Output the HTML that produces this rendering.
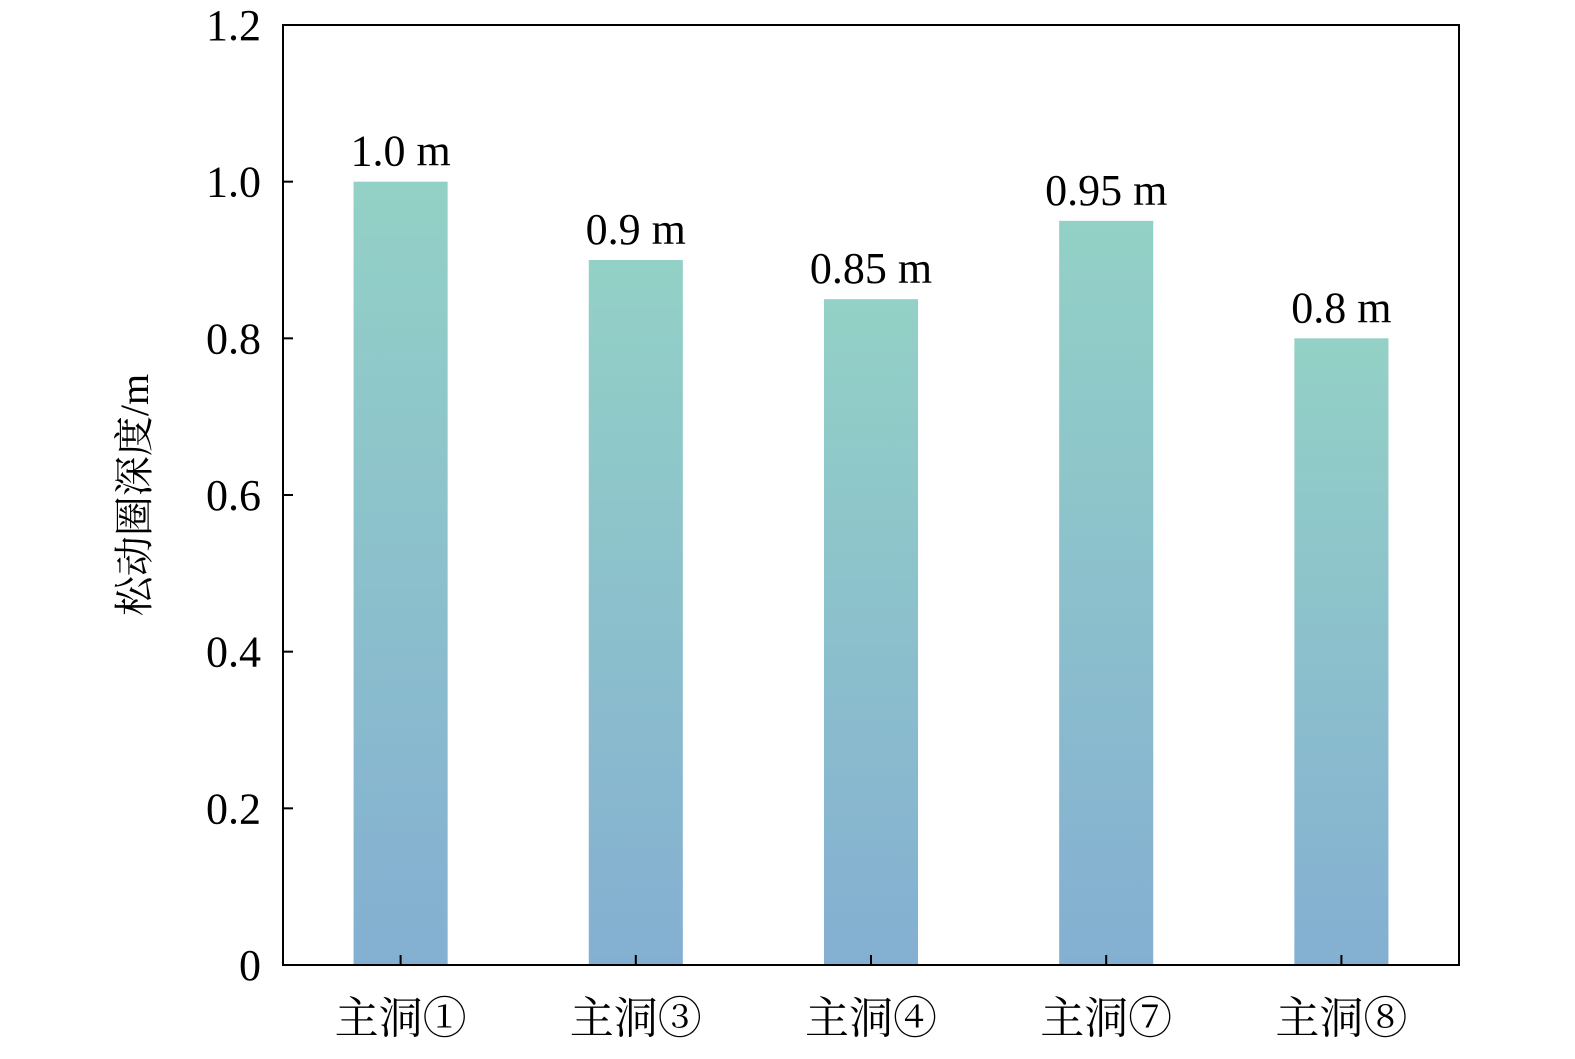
<!DOCTYPE html>
<html><head><meta charset="utf-8"><style>
html,body{margin:0;padding:0;background:#fff;}
svg text{font-family:"Liberation Serif","Noto Serif CJK SC",serif;fill:#000;}
</style></head><body>
<svg id="chart" width="1575" height="1054" xmlns="http://www.w3.org/2000/svg">
<defs><linearGradient id="g" x1="0" y1="0" x2="0" y2="1"><stop offset="0" stop-color="#93d1c6"/><stop offset="1" stop-color="#84afd2"/></linearGradient></defs>
<g id="bars"></g>
<rect x="283" y="25" width="1176" height="940" fill="none" stroke="#000" stroke-width="2"/>
<g id="axes"></g>
<text transform="translate(148,495) rotate(-90)" text-anchor="middle" font-size="40">松动圈深度/m</text>
</svg>
<script>
const categories=["主洞①","主洞③","主洞④","主洞⑦","主洞⑧"];
const values=[1.0,0.9,0.85,0.95,0.8];
const valueLabels=["1.0 m","0.9 m","0.85 m","0.95 m","0.8 m"];
const yTicks=[0,0.2,0.4,0.6,0.8,1.0,1.2];
const yTickLabels=["0","0.2","0.4","0.6","0.8","1.0","1.2"];
const NS="http://www.w3.org/2000/svg";
const L=283,R=1459,T=25,B=965,yMax=1.2;
const y=v=>B-(v/yMax)*(B-T);
const band=(R-L)/categories.length;
const x=i=>L+band*(i+0.5);
const bw=band*0.4;
const bars=document.getElementById('bars'),axes=document.getElementById('axes');
function mk(tag,attrs,parent){const e=document.createElementNS(NS,tag);for(const k in attrs)e.setAttribute(k,attrs[k]);parent.appendChild(e);return e;}
categories.forEach((c,i)=>{
 const r=mk('rect',{x:x(i)-bw/2,y:y(values[i]),width:bw,height:B-y(values[i]),fill:'url(#g)'},bars);
 
 
 const t=mk('text',{x:x(i),y:y(values[i])-16,'text-anchor':'middle','font-size':44},bars);
 t.textContent=valueLabels[i];
 
 
 const tk=mk('line',{x1:x(i),x2:x(i),y1:B,y2:B-10,stroke:'#000','stroke-width':2},axes);
 
 
 const lb=mk('text',{x:x(i),y:B+68,'text-anchor':'middle','font-size':44},axes);
 lb.textContent=c;
 
 
});
yTicks.forEach((v,i)=>{
 const tk=mk('line',{x1:L,x2:L+10,y1:y(v),y2:y(v),stroke:'#000','stroke-width':2},axes);
 
 
 const lb=mk('text',{x:L-22,y:y(v)+15,'text-anchor':'end','font-size':44},axes);
 lb.textContent=yTickLabels[i];
 
 
});
</script>
</body></html>
